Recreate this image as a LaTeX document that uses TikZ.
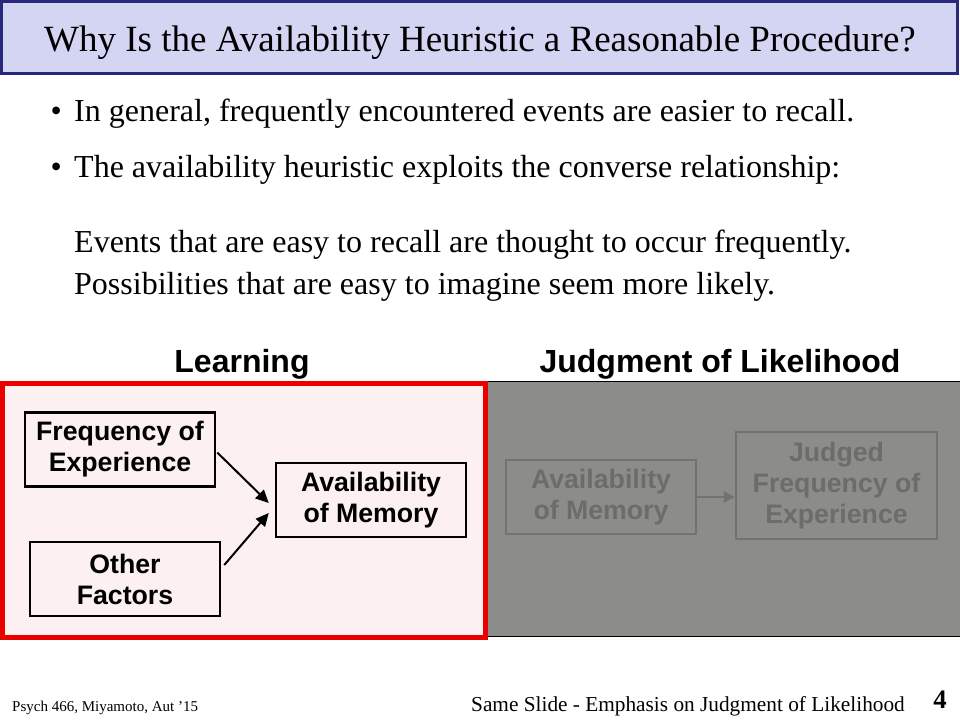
\documentclass[tikz,border=0pt]{standalone}
\usepackage{fontspec}
\setmainfont{Liberation Serif}
\setsansfont{Liberation Sans}
\usetikzlibrary{positioning,arrows.meta}
\definecolor{titlefill}{RGB}{212,212,243}
\definecolor{titleline}{RGB}{40,40,125}
\definecolor{learnfill}{RGB}{253,240,240}
\definecolor{learnline}{RGB}{235,0,0}
\definecolor{judgefill}{RGB}{140,141,138}
\definecolor{judgeline}{RGB}{114,115,112}
\definecolor{judgetext}{RGB}{108,109,106}

\begin{document}
\begin{tikzpicture}[%
		x=1pt, y=-1pt,
		>={Triangle[length=13pt,width=12pt]},
		bullettext/.style={%
			anchor=base west,
			inner sep=0pt,
			font=\fontsize{32}{38}\selectfont
		},
		heading/.style={%
			anchor=base,
			inner sep=0pt,
			font=\sffamily\bfseries\fontsize{32}{38}\selectfont
		},
		factor/.style={%
			draw,
			line width=2.5pt,
			align=center,
			inner sep=0pt,
			minimum width=190pt,
			minimum height=74pt,
			font=\sffamily\bfseries\fontsize{26.7}{31}\selectfont
		},
		faded/.style={%
			factor,
			draw=judgeline,
			text=judgetext
		}
		]
		\useasboundingbox (0,0) rectangle (960,720);
		
		% title bar
		\draw[titleline, fill=titlefill, line width=3pt] (1.5,1.5) rectangle (957.5,73.5);
		\node[anchor=base, inner sep=0pt, font=\fontsize{37}{44}\selectfont] (title) at (480,51)
		{Why Is the Availability Heuristic a Reasonable Procedure?};
		
		% bullets
		\node[bullettext, anchor=base east] (b1) at (62,121.5) {\textbullet};
		\node[bullettext] (l1) at (74,121.5) {In general, frequently encountered events are easier to recall.};
		\node[bullettext, anchor=base east] (b2) at (62,177) {\textbullet};
		\node[bullettext] (l2) at (74,177) {The availability heuristic exploits the converse relationship:};
		\node[bullettext] (l3) at (74,252) {Events that are easy to recall are thought to occur frequently.};
		\node[bullettext] (l4) at (74,294) {Possibilities that are easy to imagine seem more likely.};
		
		% panels
		\node[heading] (learn) at (242,372) {Learning};
		\node[heading] (judge) at (720,372) {Judgment of Likelihood};
		\fill[judgefill] (487,381.5) rectangle (960,636.5);
		\draw[line width=1pt] (487,381.5) -- (960,381.5);
		\draw[line width=1pt] (487,636.5) -- (960,636.5);
		\draw[learnline, fill=learnfill, line width=5pt] (2.5,383.5) rectangle (485.5,637.5);
		
		\node[factor, fill=learnfill] (freq)  at (120,449.5) {Frequency of\\Experience};
		\node[factor, fill=learnfill] (other) at (125,579)   {Other\\Factors};
		\node[factor, fill=learnfill] (avail) at (371,500)   {Availability\\of Memory};
		
		\node[faded] (gavail) at (601,497) {Availability\\of Memory};
		\node[faded, minimum width=201pt, minimum height=107pt] (judged) at (836.5,485.5)
		{Judged\\Frequency of\\Experience};
		
		\draw[->, line width=2pt] ([xshift=1pt,yshift=-3pt]freq.east) -- ([xshift=-6pt,yshift=-3pt]avail.west);
		\draw[->, line width=2pt] ([xshift=3pt,yshift=14pt]other.east) -- ([xshift=-6pt,yshift=-13pt]avail.west);
		\draw[-{Triangle[length=11pt,width=11pt]}, line width=2.5pt, judgeline] (gavail.east) -- (gavail.east -| judged.west);
		
		% footer
		\node[anchor=base west, inner sep=0pt, font=\fontsize{15}{18}\selectfont] (course) at (12,711)
		{Psych 466, Miyamoto, Aut '15};
		\node[anchor=base east, inner sep=0pt, font=\fontsize{21.3}{26}\selectfont] (note) at (905,711)
		{Same Slide - Emphasis on Judgment of Likelihood};
		\node[anchor=base east, inner sep=0pt, font=\bfseries\fontsize{26.7}{32}\selectfont] (page) at (947,708)
		{4};
\end{tikzpicture}
\end{document}
